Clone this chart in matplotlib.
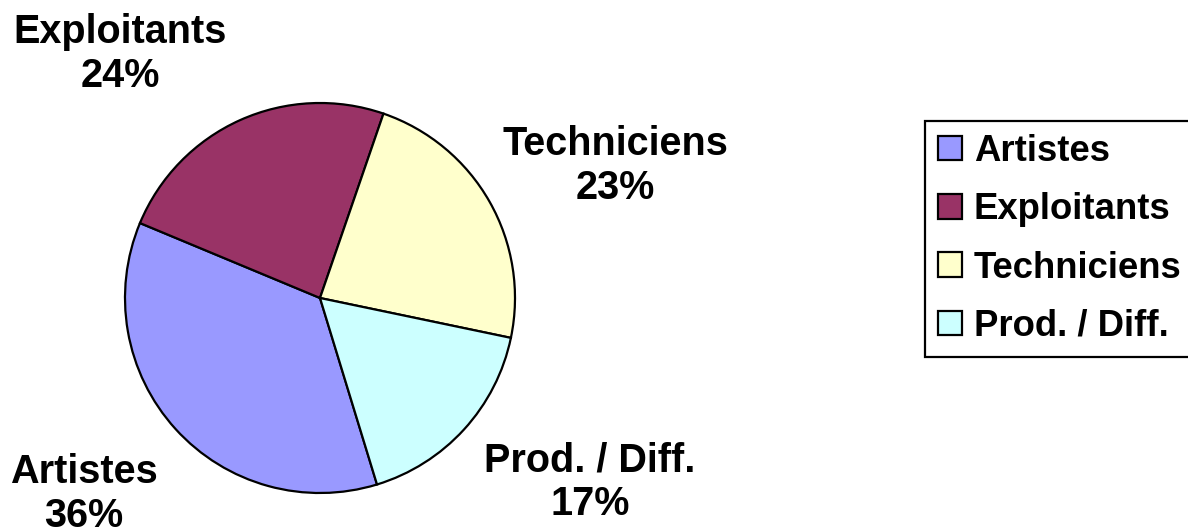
import matplotlib
matplotlib.use("Agg")
import matplotlib.pyplot as plt

# data
categories = ["Artistes", "Exploitants", "Techniciens", "Prod. / Diff."]
shares = [36, 24, 23, 17]
colors = ["#9999FF", "#993366", "#FFFFCC", "#CCFFFF"]

plt.rcParams['font.family'] = ['Liberation Sans', 'DejaVu Sans']
plt.rcParams['font.weight'] = 'bold'

W, H = 1188, 532
fig = plt.figure(figsize=(W / 100, H / 100), dpi=100)
ax = fig.add_axes([0, 0, 1, 1])

# pie drawn in pixel-like data coords (y measured from bottom)
wedges, _ = ax.pie(shares, colors=colors, startangle=-73, counterclock=False,
                   center=(320, H - 298), radius=195, frame=True,
                   wedgeprops=dict(edgecolor='black', linewidth=1.6))
ax.set_xlim(0, W)
ax.set_ylim(0, H)
ax.set_aspect('equal')
ax.axis('off')

# label positions (centre of text block, pixels from top-left)
label_pos = [(84, 494), (120, 54), (615, 166), (590, 482)]
for name, val, (x, y) in zip(categories, shares, label_pos):
    ax.text(x, H - y, f"{name}\n{val}%", ha='center', va='center',
            fontsize=28.5, fontweight='bold', linespacing=1.2)

leg = ax.legend(wedges, categories, loc='upper left',
                bbox_to_anchor=(925, H - 121), bbox_transform=ax.transData,
                borderaxespad=0, borderpad=0.35, fontsize=26.3,
                handlelength=0.66, handleheight=0.66, handletextpad=0.33,
                labelspacing=0.64, fancybox=False, framealpha=1,
                edgecolor='black')
leg.get_frame().set_linewidth(1.6)
for t in leg.get_texts():
    t.set_fontweight('bold')
for h in leg.legend_handles:
    h.set_linewidth(1.6)

fig.savefig("out.png", dpi=100)
